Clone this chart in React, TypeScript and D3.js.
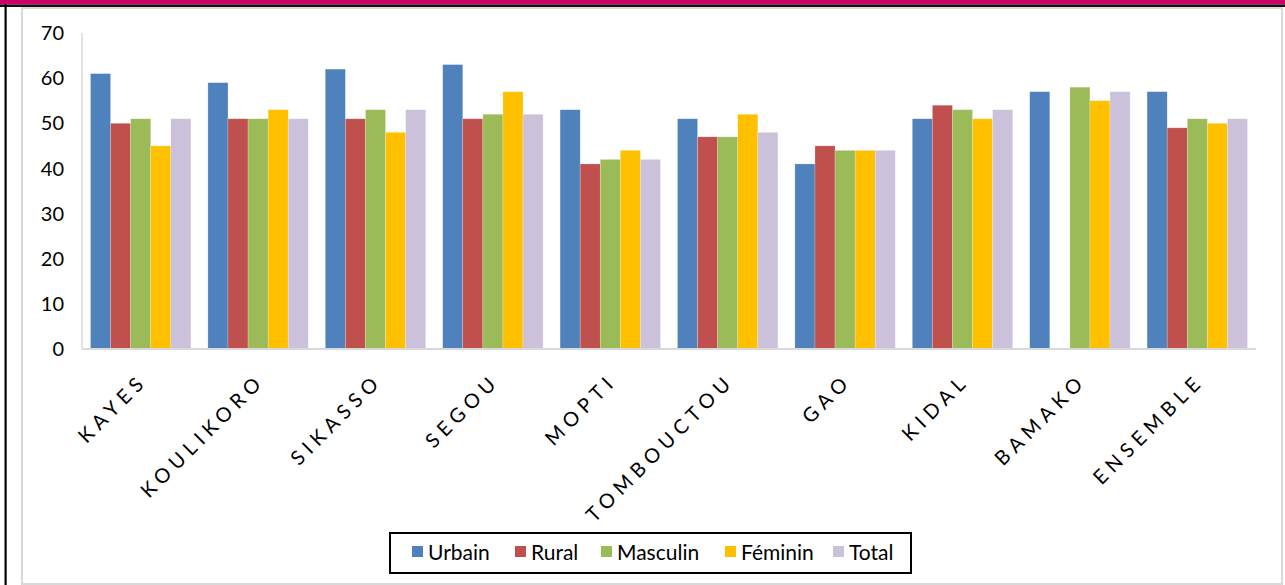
import * as d3 from 'd3'

const regions = ['KAYES', 'KOULIKORO', 'SIKASSO', 'SEGOU', 'MOPTI', 'TOMBOUCTOU', 'GAO', 'KIDAL', 'BAMAKO', 'ENSEMBLE']
const seriesNames = ['Urbain', 'Rural', 'Masculin', 'Féminin', 'Total']
const seriesColors = ['#4f81bd', '#c0504d', '#9bbb59', '#ffc000', '#ccc1da']

// one array per series, same order as regions (null = no bar)
const urbain = [61, 59, 62, 63, 53, 51, 41, 51, 57, 57]
const rural: (number | null)[] = [50, 51, 51, 51, 41, 47, 45, 54, null, 49]
const masculin = [51, 51, 53, 52, 42, 47, 44, 53, 58, 51]
const feminin = [45, 53, 48, 57, 44, 52, 44, 51, 55, 50]
const total = [51, 51, 53, 52, 42, 48, 44, 53, 57, 51]
const yTicks = [0, 10, 20, 30, 40, 50, 60, 70]

const W = 1285
const H = 585
const plot = { left: 82, right: 1256, top: 33, bottom: 349 }
const font = "Lato, 'Open Sans', sans-serif"

export default function App() {
  const values = [urbain, rural, masculin, feminin, total]

  const x0 = d3.scaleBand<string>().domain(regions).range([plot.left, plot.right])
  const bw = x0.bandwidth()
  const x1 = d3.scaleBand<string>().domain(seriesNames).range([8.5, bw - 8.5])
  const y = d3.scaleLinear().domain([0, 70]).range([plot.bottom, plot.top])

  const labelSpacing = 5.5
  const legendItems = [
    { x: 412, tx: 428 },
    { x: 515, tx: 531 },
    { x: 601, tx: 617 },
    { x: 725, tx: 741 },
    { x: 833, tx: 849 },
  ]

  return (
    <svg width={W} height={H} style={{ position: 'absolute', left: 0, top: 0, background: '#fff' }}>
      {/* top band and frame */}
      <rect x={0} y={0} width={W} height={4.5} fill="#cc0066" />
      <rect x={0} y={4.5} width={W} height={2.5} fill="#111" />
      <rect x={4.5} y={4.5} width={2.2} height={H} fill="#000" />
      <rect x={22} y={8} width={1260} height={576} fill="none" stroke="#d9d9d9" strokeWidth={2} />

      {/* bars */}
      {regions.map((r, i) => (
        <g key={r} transform={`translate(${x0(r)},0)`}>
          {seriesNames.map((s, j) => {
            const v = values[j][i]
            if (v == null) return null
            return (
              <rect
                key={s}
                x={x1(s)}
                y={y(v)}
                width={x1.bandwidth()}
                height={y(0) - y(v)}
                fill={seriesColors[j]}
                stroke="#ffffff"
                strokeOpacity={0.35}
                strokeWidth={0.6}
              />
            )
          })}
        </g>
      ))}

      {/* axes */}
      <line x1={plot.left} x2={plot.left} y1={plot.top} y2={plot.bottom} stroke="#d9d9d9" strokeWidth={1.5} />
      <line x1={plot.left} x2={plot.right} y1={plot.bottom} y2={plot.bottom} stroke="#d9d9d9" strokeWidth={2} />

      {yTicks.map(t => (
        <text
          key={t}
          x={64}
          y={y(t)}
          dy="0.36em"
          textAnchor="end"
          fontFamily={font}
          fontSize={20}
          fill="#000"
        >
          {t}
        </text>
      ))}

      {regions.map(r => {
        const cx = (x0(r) ?? 0) + bw / 2
        return (
          <text
            key={r}
            transform={`translate(${cx + 4},386) rotate(-45)`}
            textAnchor="end"
            dx={labelSpacing}
            fontFamily={font}
            fontSize={20}
            letterSpacing={labelSpacing}
            fill="#000"
          >
            {r}
          </text>
        )
      })}

      {/* legend */}
      <rect x={390} y={533} width={521} height={40} fill="#fff" stroke="#000" strokeWidth={2} />
      {seriesNames.map((s, j) => (
        <g key={s}>
          <rect x={legendItems[j].x} y={546} width={11} height={11} fill={seriesColors[j]} />
          <text x={legendItems[j].tx} y={552} dy="0.36em" fontFamily={font} fontSize={21} fill="#000">
            {s}
          </text>
        </g>
      ))}
    </svg>
  )
}
